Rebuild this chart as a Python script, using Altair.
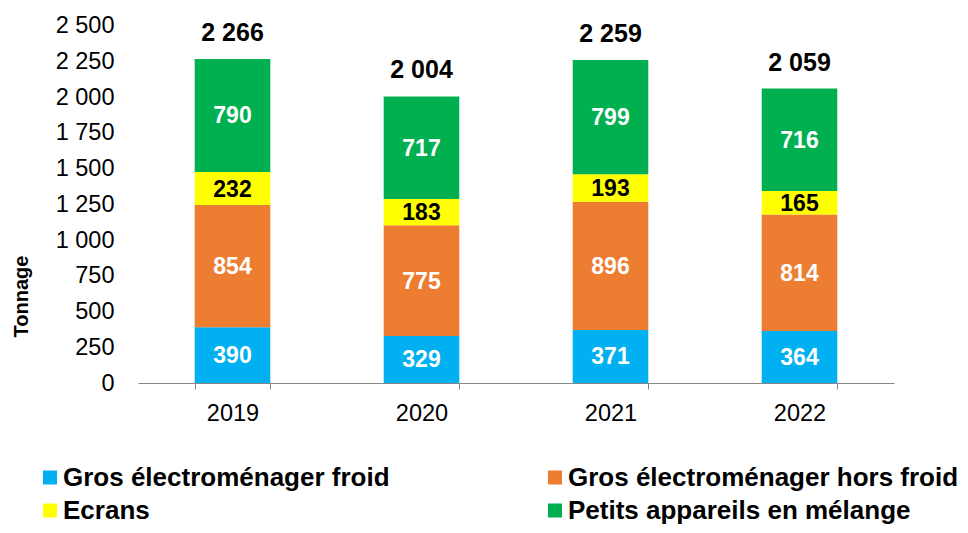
import altair as alt
import pandas as pd

years = ["2019", "2020", "2021", "2022"]
categories = [
    "Gros électroménager froid",
    "Gros électroménager hors froid",
    "Ecrans",
    "Petits appareils en mélange",
]
froid = [390, 329, 371, 364]
hors_froid = [854, 775, 896, 814]
ecrans = [232, 183, 193, 165]
petits = [790, 717, 799, 716]
totals = [2266, 2004, 2259, 2059]
colors = ["#00B0F0", "#ED7D31", "#FFFF00", "#00B050"]
y_ticks = [0, 250, 500, 750, 1000, 1250, 1500, 1750, 2000, 2250, 2500]

rows = []
for i, yr in enumerate(years):
    for k, (cat, vals) in enumerate(zip(categories, [froid, hors_froid, ecrans, petits])):
        rows.append({"year": yr, "cat": cat, "ord": k, "value": vals[i]})
df = pd.DataFrame(rows)
tot_df = pd.DataFrame({"year": years, "total": totals})

FONT = "Liberation Sans"
W, H = 756, 357.5
SEP = "\u00a0"

x_enc = alt.X(
    "year:N",
    title=None,
    sort=years,
    scale=alt.Scale(paddingInner=0.6, paddingOuter=0.3),
    axis=alt.Axis(
        labelAngle=0,
        labelFont=FONT,
        labelFontSize=23.5,
        labelColor="black",
        labelPadding=12,
        domainColor="#868686",
        tickColor="#868686",
        tickSize=6,
        tickBand="extent",
        grid=False,
    ),
)

y_scale = alt.Scale(domain=[0, 2500], nice=False)
y_axis = alt.Axis(
    values=y_ticks,
    labelExpr=f"replace(format(datum.value, ','), ',', '{SEP}')",
    domain=False,
    ticks=False,
    tickSize=0,
    grid=False,
    labelFont=FONT,
    labelFontSize=23.5,
    labelColor="black",
    labelPadding=24,
    title="Tonnage",
    titleFont=FONT,
    titleFontSize=20,
    titleFontWeight="bold",
    titleColor="black",
    titleAngle=270,
    titleX=-111,
    titleY=270.5,
    titleAlign="center",
    titleBaseline="alphabetic",
)

bars = alt.Chart(df).mark_bar().encode(
    x=x_enc,
    y=alt.Y("value:Q", stack="zero", scale=y_scale, axis=y_axis),
    color=alt.Color(
        "cat:N",
        scale=alt.Scale(domain=categories, range=colors),
        legend=alt.Legend(
            title=None,
            orient="none",
            direction="horizontal",
            legendX=-101,
            legendY=439,
            columns=2,
            columnPadding=152,
            rowPadding=7,
            padding=0,
            labelFont=FONT,
            labelFontSize=26,
            labelFontWeight="bold",
            labelColor="black",
            labelLimit=700,
            labelOffset=0,
            symbolType="square",
            symbolSize=196,
            symbolStrokeWidth=0,
        ),
    ),
    order=alt.Order("ord:Q", sort="ascending"),
)

labels = (
    alt.Chart(df)
    .transform_window(
        cum="sum(value)", groupby=["year"], sort=[alt.SortField("ord")], frame=[None, 0]
    )
    .transform_calculate(mid="datum.cum - datum.value / 2")
    .mark_text(font=FONT, fontSize=23, fontWeight="bold", baseline="middle", dy=1)
    .encode(
        x=x_enc,
        y=alt.Y("mid:Q", scale=y_scale, axis=y_axis),
        text=alt.Text("value:Q"),
        color=alt.condition(
            alt.datum.cat == "Ecrans", alt.value("black"), alt.value("white")
        ),
    )
)

total_text = (
    alt.Chart(tot_df)
    .transform_calculate(lbl=f"replace(format(datum.total, ','), ',', '{SEP}')")
    .mark_text(font=FONT, fontSize=25, fontWeight="bold", baseline="alphabetic", dy=-18, color="black")
    .encode(
        x=x_enc,
        y=alt.Y("total:Q", scale=y_scale, axis=y_axis),
        text="lbl:N",
    )
)

chart = (
    alt.layer(bars, labels, total_text)
    .properties(
        width=W,
        height=H,
        padding={"left": 130, "top": 17.5, "right": 66, "bottom": 142},
        autosize=alt.AutoSizeParams(type="none"),
        background="white",
    )
    .configure_view(stroke=None)
)

chart.save("out.html", embed_options={"renderer": "svg", "actions": False})
